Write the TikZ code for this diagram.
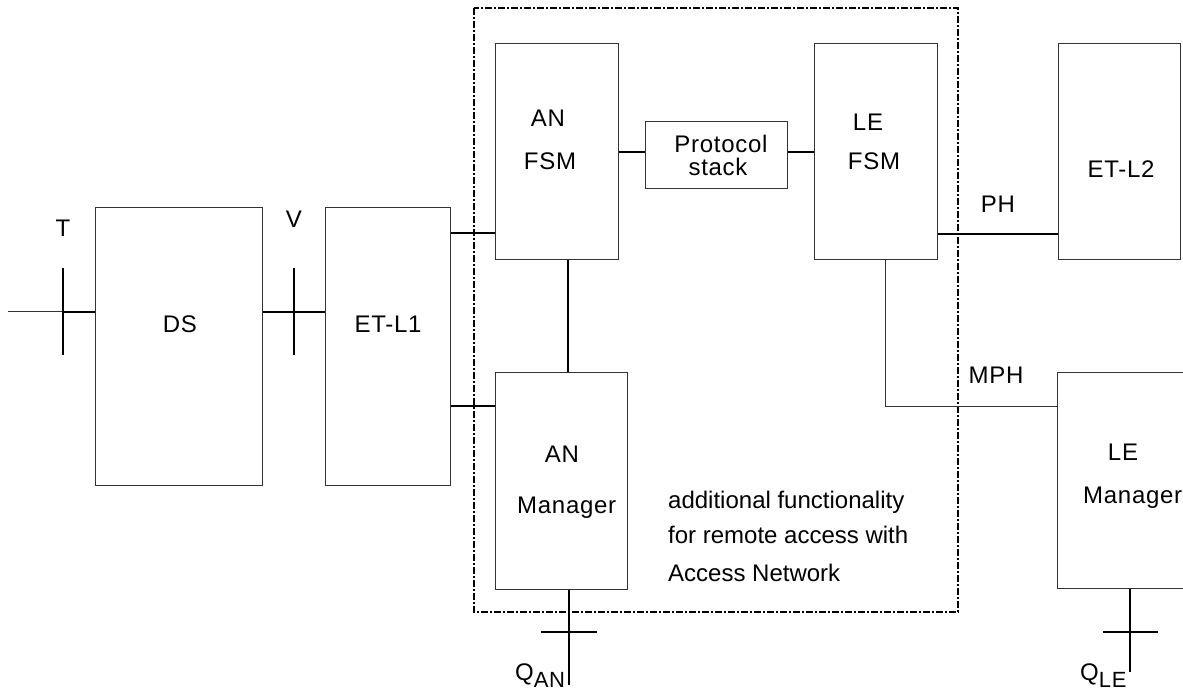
\documentclass[tikz,border=0pt]{standalone}
\usepackage{fontspec}
\setmainfont{Liberation Sans}[LetterSpace=3]
\newfontfamily\plainsans{Liberation Sans}
\begin{document}
\begin{tikzpicture}[x=1pt,y=-1pt,
  box/.style={draw=black!80,line width=1pt,inner sep=0pt,minimum width=#1},
  conn/.style={draw=black,line width=2pt},
  thin/.style={draw=black!80,line width=1pt},
  txt/.style={inner sep=0pt,anchor=base,font=\fontsize{24}{28}\selectfont},
  ltxt/.style={inner sep=0pt,anchor=base west,font=\fontsize{24}{28}\selectfont},
  ptxt/.style={inner sep=0pt,anchor=base west,font=\plainsans\fontsize{24}{28}\selectfont},
  frame/.style={draw=black,line width=2pt,dash pattern=on 7pt off 2pt on 2pt off 2pt}]
\clip (0,0) rectangle (1183,692);
\useasboundingbox (0,0) rectangle (1183,692);
% boxes
\node[box=167pt,minimum height=277pt] (DS) at (178.5,346.5) {};
\node[box=125pt,minimum height=277pt] (ETL1) at (387.5,346.5) {};
\node[box=123pt,minimum height=216pt] (ANFSM) at (556.5,152) {};
\node[box=142pt,minimum height=67pt] (PS) at (716,155.5) {};
\node[box=123pt,minimum height=216pt] (LEFSM) at (875.5,152) {};
\node[box=122pt,minimum height=216pt] (ETL2) at (1119,152) {};
\node[box=132pt,minimum height=216pt] (ANM) at (561,481) {};
\node[box=143pt,minimum height=215pt] (LEM) at (1128.5,480.5) {};
% frame
\draw[frame] (474,8) rectangle (958,612);
% coordinates
\coordinate (tin) at (8,312);
\coordinate (tt) at (63,268);
\coordinate (tb) at (63,355);
\coordinate (vt) at (294,268);
\coordinate (vb) at (294,355);
\coordinate (y1) at (0,233);
\coordinate (y2) at (0,406);
\coordinate (y3) at (0,152);
\coordinate (y4) at (0,234);
\coordinate (xa) at (568,0);
\coordinate (xl) at (885,0);
\coordinate (qan) at (569,685);
\coordinate (qanl) at (541,632);
\coordinate (qanr) at (597,632);
\coordinate (qle) at (1130,672);
\coordinate (qlel) at (1103,632);
\coordinate (qler) at (1158,632);
% connectors
\draw[thin] (tin) -- (tin -| tt);
\draw[conn] (tin -| tt) -- (tin -| DS.west);
\draw[conn] (tt) -- (tb);
\draw[conn] (DS.east |- tin) -- (ETL1.west |- tin);
\draw[conn] (vt) -- (vb);
\draw[conn] (ETL1.east |- y1) -- (ANFSM.west |- y1);
\draw[conn] (ETL1.east |- y2) -- (ANM.west |- y2);
\draw[conn] (ANFSM.south -| xa) -- (ANM.north -| xa);
\draw[conn] (ANFSM.east |- y3) -- (PS.west |- y3);
\draw[conn] (PS.east |- y3) -- (LEFSM.west |- y3);
\draw[conn] (LEFSM.east |- y4) -- (ETL2.west |- y4);
\draw[thin] (LEFSM.south -| xl) -- (xl |- y2) -- (LEM.west |- y2);
\draw[conn] (ANM.south -| qan) -- (qan);
\draw[conn] (qanl) -- (qanr);
\draw[conn] (LEM.south -| qle) -- (qle);
\draw[conn] (qlel) -- (qler);
% texts
\node[txt] (tT) at (63,237) {T};
\node[txt] (tV) at (294,228) {V};
\node[txt] (tDS) at (180,333) {DS};
\node[txt] (tETL1) at (388,333) {ET-L1};
\node[txt] (tAN1) at (548,127) {AN};
\node[txt] (tFSM1) at (550,170) {FSM};
\node[txt] (tLE1) at (868,131) {LE};
\node[txt] (tFSM2) at (874,170) {FSM};
\node[txt] (tP1) at (721,153) {Protocol};
\node[txt] (tP2) at (718,176) {stack};
\node[txt] (tETL2) at (1121,178) {ET-L2};
\node[txt] (tPH) at (998,213) {PH};
\node[txt] (tMPH) at (996,384) {MPH};
\node[txt] (tAN2) at (562,462) {AN};
\node[ltxt] (tM1) at (517,513) {Manager};
\node[txt] (tLE2) at (1123,460) {LE};
\node[ltxt] (tM2) at (1083,503) {Manager};
\node[ptxt] (tA1) at (668,508) {additional functionality};
\node[ptxt] (tA2) at (668,543) {for remote access with};
\node[ptxt] (tA3) at (668,581) {Access Network};
\node[ltxt] (tQAN) at (515,680) {Q\raisebox{-7pt}{\fontsize{22}{26}\selectfont AN}};
\node[ltxt] (tQLE) at (1080,680) {Q\raisebox{-7pt}{\fontsize{22}{26}\selectfont LE}};
\end{tikzpicture}
\end{document}
